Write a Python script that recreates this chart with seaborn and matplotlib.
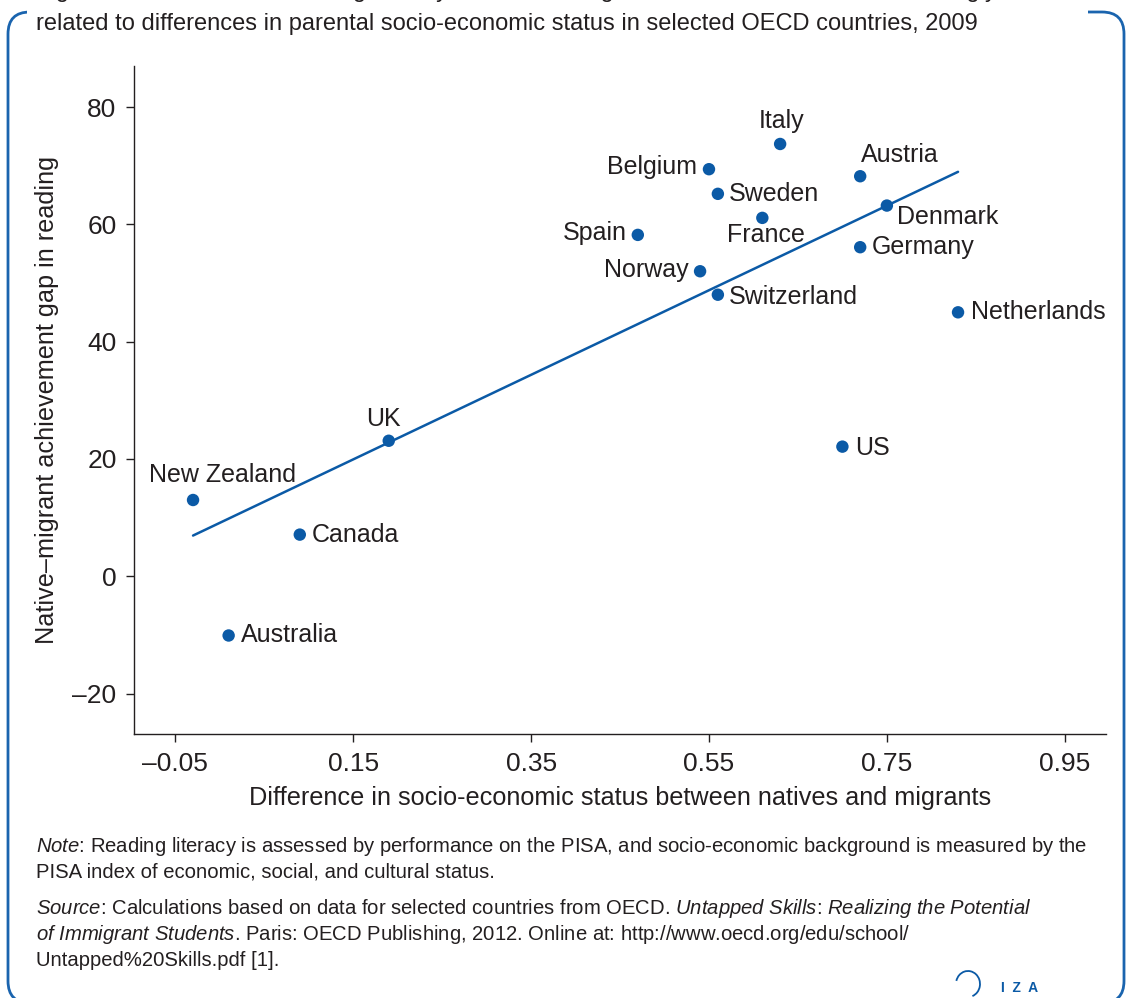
import matplotlib
matplotlib.use('Agg')
import matplotlib.pyplot as plt
import matplotlib.transforms as mtransforms
from matplotlib.patches import FancyBboxPatch, Rectangle, Arc
import seaborn as sns

# =============================================================================
# Data
# =============================================================================
countries = ['New Zealand', 'Canada', 'Australia', 'UK', 'Spain', 'Norway',
             'Belgium', 'Sweden', 'Switzerland', 'France', 'Italy', 'Austria',
             'Denmark', 'Germany', 'US', 'Netherlands']
ses_gap = [-0.03, 0.09, 0.01, 0.19, 0.47, 0.54,
           0.55, 0.56, 0.56, 0.61, 0.63, 0.72,
           0.75, 0.72, 0.70, 0.83]
reading_gap = [13.0, 7.1, -10.1, 23.1, 58.2, 52.0,
               69.4, 65.2, 48.0, 61.1, 73.7, 68.2,
               63.2, 56.1, 22.1, 45.0]

x_ticks = [-0.05, 0.15, 0.35, 0.55, 0.75, 0.95]
x_tick_labels = ['\u20130.05', '0.15', '0.35', '0.55', '0.75', '0.95']
y_ticks = [-20, 0, 20, 40, 60, 80]
y_tick_labels = ['\u201320', '0', '20', '40', '60', '80']

# label offsets in pixels (dx, dy, ha) for each country
label_pos = {
    'New Zealand': (-44, 25, 'left'),
    'Canada': (12, 0, 'left'),
    'Australia': (12, 0, 'left'),
    'UK': (-5, 22, 'center'),
    'Spain': (-11, 2, 'right'),
    'Norway': (-11, 1, 'right'),
    'Belgium': (-12, 2, 'right'),
    'Sweden': (11, 0, 'left'),
    'Switzerland': (11, -2, 'left'),
    'France': (4, -17, 'center'),
    'Italy': (1, 23, 'center'),
    'Austria': (1, 21, 'left'),
    'Denmark': (10, -11, 'left'),
    'Germany': (12, 0, 'left'),
    'US': (13, -1, 'left'),
    'Netherlands': (13, 0, 'left'),
}

blue = '#0b5aa6'
text_col = '#231f20'

# =============================================================================
# Plot
# =============================================================================
sns.set_theme(style='ticks')
plt.rcParams['font.family'] = ['Liberation Sans', 'DejaVu Sans']
plt.rcParams['mathtext.fontset'] = 'custom'
plt.rcParams['mathtext.rm'] = 'Liberation Sans'
plt.rcParams['mathtext.it'] = 'Liberation Sans:italic'

fig = plt.figure(figsize=(11.27, 9.98), dpi=100)
ax = fig.add_axes([0.1192, 0.2645, 0.9811 - 0.1192, 0.9339 - 0.2645])

sns.regplot(x=ses_gap, y=reading_gap, scatter=False, ci=None, truncate=True,
            color=blue, line_kws={'lw': 1.8}, ax=ax)
sns.scatterplot(x=ses_gap, y=reading_gap, s=80, color=blue, edgecolor='none',
                zorder=3, ax=ax)

for name, xv, yv in zip(countries, ses_gap, reading_gap):
    dx, dy, ha = label_pos[name]
    ax.annotate(name, (xv, yv), xytext=(dx, dy), textcoords='offset pixels',
                ha=ha, va='center', fontsize=18, color=text_col)

ax.set_xlim(-0.096, 0.996)
ax.set_ylim(-26.9, 87.0)
ax.set_xticks(x_ticks)
ax.set_xticklabels(x_tick_labels)
ax.set_yticks(y_ticks)
ax.set_yticklabels(y_tick_labels)
ax.tick_params(axis='both', labelsize=19, length=5.8, width=1, pad=7,
               color=text_col, labelcolor=text_col)
for s in ['left', 'bottom']:
    ax.spines[s].set_color(text_col)
    ax.spines[s].set_linewidth(1.0)
sns.despine(ax=ax)

ax.set_xlabel('Difference in socio-economic status between natives and migrants',
              fontsize=18.2, color=text_col, labelpad=7)
ax.set_ylabel('Native\u2013migrant achievement gap in reading',
              fontsize=18.2, color=text_col, labelpad=10)

# frame round the figure
ident = mtransforms.IdentityTransform()
frame = FancyBboxPatch((8, -5), 1116, 991, boxstyle='round,pad=0,rounding_size=22',
                       transform=ident, fill=False, edgecolor='#1a64ae', lw=2.0)
fig.add_artist(frame)
mask = Rectangle((27, 998 - 24), 1088 - 27, 24, transform=ident,
                 facecolor='white', edgecolor='none')
fig.add_artist(mask)

# title (first line sits mostly above the picture)
fig.text(36 / 1127, 1 - (-9) / 998, 'Figure 1. Differences in reading literacy between '
         'immigrant and native students are strongly', fontsize=17, color=text_col,
         va='center', ha='left')
fig.text(36 / 1127, 1 - 24 / 998, 'related to differences in parental socio-economic '
         'status in selected OECD countries, 2009', fontsize=17, color=text_col,
         va='center', ha='left')

# notes
note_lines = [
    (846, r'$\mathit{Note}$: Reading literacy is assessed by performance on the PISA, '
          'and socio-economic background is measured by the'),
    (872, 'PISA index of economic, social, and cultural status.'),
    (908, r'$\mathit{Source}$: Calculations based on data for selected countries from OECD. '
          r'$\mathit{Untapped\ Skills}$: $\mathit{Realizing\ the\ Potential}$'),
    (934, r'$\mathit{of\ Immigrant\ Students}$. Paris: OECD Publishing, 2012. '
          'Online at: http://www.oecd.org/edu/school/'),
    (960, 'Untapped%20Skills.pdf [1].'),
]
for ypx, txt in note_lines:
    fig.text(36 / 1127, 1 - ypx / 998, txt, fontsize=14.6, color=text_col,
             va='center', ha='left')

# IZA logo
fig.text(1020 / 1127, 1 - 988 / 998, 'I  Z  A', fontsize=10, fontweight='bold',
         color=blue, ha='center', va='center')
fig.add_artist(Arc((968, 998 - 984), 24, 26, theta1=-70, theta2=165,
                   transform=ident, color=blue, lw=1.3))

fig.savefig('out.png', dpi=100)
